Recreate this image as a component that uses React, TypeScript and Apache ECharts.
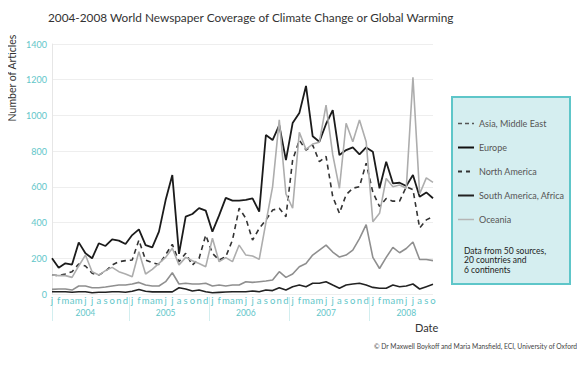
import React, { useEffect, useRef } from "react";
import * as echarts from "echarts";

const monthLetters = ["j", "f", "m", "a", "m", "j", "j", "a", "s", "o", "n", "d"];
const years = ["2004", "2005", "2006", "2007", "2008"];
const monthsInLastYear = 10;

const europe = [
  200, 147, 172, 165, 289, 228, 200, 284, 269, 306, 299, 280,
  330, 362, 274, 261, 349, 526, 666, 225, 433, 448, 481, 467,
  349, 440, 538, 523, 523, 527, 536, 461, 890, 862, 946, 750,
  957, 1013, 1165, 883, 853, 952, 1030, 778, 806, 821, 782, 821,
  797, 592, 741, 620, 623, 605, 666, 545, 569, 536,
];
const northAmerica = [
  106, 103, 112, 125, 168, 157, 116, 106, 128, 162, 181, 187,
  190, 302, 190, 175, 165, 220, 278, 181, 228, 162, 199, 330,
  228, 190, 209, 302, 480, 424, 302, 367, 414, 470, 480, 433,
  750, 862, 806, 834, 741, 770, 545, 452, 556, 592, 601, 732,
  570, 490, 535, 520, 520, 600, 585, 370, 415, 433,
];
const oceania = [
  106, 103, 103, 93, 157, 218, 125, 106, 131, 149, 125, 112,
  97, 237, 112, 138, 172, 205, 256, 163, 205, 186, 171, 153,
  312, 181, 204, 181, 274, 218, 213, 194, 400, 600, 975, 560,
  480, 905, 810, 840, 850, 1058, 780, 592, 956, 853, 974, 853,
  405, 452, 647, 601, 610, 592, 1213, 560, 650, 625,
];
const asiaMiddleEast = [
  26, 28, 28, 22, 45, 45, 35, 35, 39, 45, 50, 50,
  56, 65, 50, 45, 45, 69, 119, 56, 60, 56, 56, 60,
  45, 50, 45, 50, 50, 69, 65, 69, 73, 78, 125, 93,
  112, 153, 171, 218, 246, 274, 235, 207, 218, 246, 310, 389,
  205, 143, 205, 261, 231, 255, 291, 193, 193, 187,
];
const southAmericaAfrica = [
  13, 13, 13, 10, 13, 13, 7, 10, 10, 13, 13, 10,
  15, 25, 15, 12, 12, 12, 12, 35, 28, 17, 22, 13,
  7, 9, 11, 13, 13, 13, 17, 13, 22, 19, 35, 22,
  41, 50, 41, 60, 60, 69, 50, 32, 50, 56, 60, 50,
  37, 32, 32, 50, 41, 45, 56, 28, 41, 54,
];
const yTicks = [0, 200, 400, 600, 800, 1000, 1200, 1400];
const noteLines = ["Data from 50 sources,", "20 countries and", "6 continents"];

const FONT = "Lato, 'Open Sans', sans-serif";
const TEAL = "#62c6c9";

export default function App() {
  const ref = useRef<HTMLDivElement>(null);
  useEffect(() => {
    if (!ref.current) return;
    const chart = echarts.init(ref.current, undefined, { renderer: "svg" });

    const categories: string[] = [];
    years.forEach((y, yi) => {
      const n = yi === years.length - 1 ? monthsInLastYear : 12;
      for (let m = 0; m < n; m++) categories.push(`${y}-${m + 1}`);
    });
    const monthOf = (c: string) => monthLetters[parseInt(c.split("-")[1], 10) - 1];
    const lastIdx = categories.length - 1;
    const yearCenters = years.map((_, i) => i * 12 + 5);
    const yearSeparators = years.map((_, i) => (i === 0 ? 0 : i * 12 - 0.5));

    const series = [
      { name: "Asia, Middle East", data: asiaMiddleEast, color: "#8f8f8f", width: 1.6, type: "solid" },
      { name: "Europe", data: europe, color: "#1b1b1b", width: 1.8, type: "solid" },
      { name: "North America", data: northAmerica, color: "#333333", width: 1.6, type: [5, 4] },
      { name: "South America, Africa", data: southAmericaAfrica, color: "#222222", width: 1.6, type: "solid" },
      { name: "Oceania", data: oceania, color: "#adadad", width: 1.6, type: "solid" },
    ];

    const legendIcon: Record<string, any> = {
      "Asia, Middle East": { type: [4, 3], color: "#555555", width: 1.5 },
      Europe: { type: "solid", color: "#111111", width: 2 },
      "North America": { type: [4, 4], color: "#333333", width: 1.8 },
      "South America, Africa": { type: "solid", color: "#222222", width: 2 },
      Oceania: { type: "solid", color: "#b5b5b5", width: 1.5 },
    };

    chart.setOption({
      animation: false,
      backgroundColor: "#ffffff",
      textStyle: { fontFamily: FONT },
      title: {
        text: "2004-2008 World Newspaper Coverage of Climate Change or Global Warming",
        left: 48,
        top: 11,
        padding: 0,
        textStyle: { fontSize: 11.8, fontWeight: "normal", color: "#333333", fontFamily: FONT },
      },
      grid: { left: 52, right: 152, top: 44, bottom: 73, containLabel: false },
      xAxis: [
        {
          type: "category",
          data: categories,
          boundaryGap: false,
          axisLine: { show: false },
          axisTick: { show: false },
          splitLine: { show: false },
          axisLabel: {
            interval: 0,
            hideOverlap: false,
            margin: 1,
            fontSize: 9.5,
            color: TEAL,
            fontFamily: FONT,
            formatter: (v: string) => monthOf(v),
          },
        },
        {
          type: "value",
          min: 0,
          max: lastIdx,
          position: "bottom",
          offset: 3,
          axisLine: { show: false },
          splitLine: { show: false },
          axisTick: {
            show: true,
            inside: false,
            length: 24,
            customValues: yearSeparators,
            lineStyle: { color: "#d2eeef", width: 1 },
          },
          axisLabel: {
            show: true,
            margin: 11,
            fontSize: 8.5,
            color: TEAL,
            fontFamily: FONT,
            customValues: yearCenters,
            formatter: (v: number) => years[Math.round((v - 5) / 12)] ?? "",
          },
        },
      ],
      yAxis: {
        type: "value",
        min: 0,
        max: yTicks[yTicks.length - 1],
        interval: yTicks[1] - yTicks[0],
        axisLine: { show: true, lineStyle: { color: "#e6e6e6" } },
        axisTick: { show: false },
        splitLine: { show: true, lineStyle: { color: "#eeeeee" } },
        axisLabel: {
          fontSize: 9,
          color: TEAL,
          margin: 5,
          fontFamily: FONT,
          formatter: (v: number) => String(v),
        },
      },
      legend: {
        orient: "vertical",
        left: 457,
        top: 119,
        itemWidth: 16,
        itemHeight: 10,
        itemGap: 15,
        padding: 0,
        textStyle: { fontSize: 9, color: "#555555", fontFamily: FONT, padding: [0, 0, 0, 0] },
        data: series.map((s) => ({
          name: s.name,
          lineStyle: legendIcon[s.name],
          itemStyle: { opacity: 0 },
        })),
      },
      graphic: [
        {
          type: "rect",
          z: -10,
          shape: { x: 452, y: 97, width: 118, height: 187 },
          style: { fill: "#d5eef0", stroke: "#5ec6c9", lineWidth: 2 },
        },
        {
          type: "text",
          x: 464,
          y: 246,
          style: {
            text: noteLines.join("\n"),
            fontSize: 8.5,
            lineHeight: 9.5,
            fill: "#222222",
            fontFamily: FONT,
          },
        },
        {
          type: "text",
          x: 12,
          y: 78,
          rotation: Math.PI / 2,
          style: {
            text: "Number of Articles",
            fontSize: 10.5,
            fill: "#333333",
            align: "center",
            verticalAlign: "middle",
            fontFamily: FONT,
          },
        },
        {
          type: "text",
          x: 415,
          y: 322,
          style: { text: "Date", fontSize: 11, fill: "#333333", fontFamily: FONT },
        },
        {
          type: "text",
          x: 577,
          y: 342,
          style: {
            text: "\u00a9 Dr Maxwell Boykoff and Maria Mansfield, ECI, University of Oxford",
            fontSize: 6.7,
            fill: "#444444",
            align: "right",
            fontFamily: FONT,
          },
        },
      ],
      series: series.map((s) => ({
        name: s.name,
        type: "line",
        xAxisIndex: 0,
        data: s.data,
        symbol: "none",
        smooth: false,
        lineStyle: { color: s.color, width: s.width, type: s.type },
        itemStyle: { color: s.color },
      })),
    });
    return () => chart.dispose();
  }, []);
  return <div ref={ref} style={{ width: 585, height: 367, marginLeft: -8, marginTop: -8 }} />;
}
